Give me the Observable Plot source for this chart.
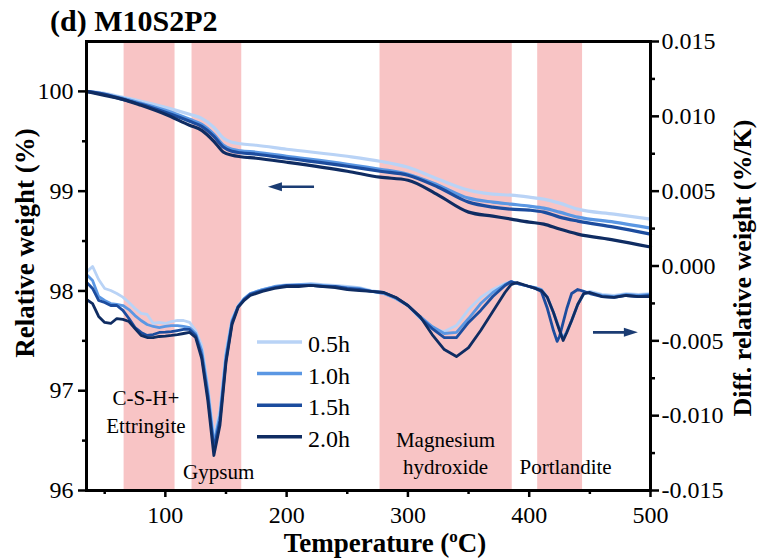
<!DOCTYPE html>
<html><head><meta charset="utf-8">
<script src="https://cdn.jsdelivr.net/npm/d3@7"></script>
<script src="https://cdn.jsdelivr.net/npm/@observablehq/plot@0.6"></script>
<style>
body{margin:0;background:#fff;}
#chart svg{display:block;}
</style></head><body><div id="chart"></div>
<script>
// ---------- data ----------
const series = ["0.5h", "1.0h", "1.5h", "2.0h"];
const colors = ["#b9d3f6", "#5b97e3", "#1c4c9e", "#0f2c62"];

// TG: relative weight (%)
const tgT   = [35, 50, 65, 80, 100, 120, 130, 140, 148, 155, 162, 175, 200, 250, 277, 300, 325, 350, 370, 385, 400, 412, 425, 440, 470, 500];
const tg05  = [100.00, 99.98, 99.94, 99.90, 99.84, 99.77, 99.73, 99.64, 99.53, 99.49, 99.475, 99.46, 99.42, 99.35, 99.30, 99.24, 99.12, 99.01, 98.97, 98.96, 98.94, 98.92, 98.88, 98.82, 98.77, 98.72];
const tg10  = [100.00, 99.97, 99.93, 99.88, 99.81, 99.72, 99.67, 99.57, 99.46, 99.42, 99.405, 99.39, 99.35, 99.27, 99.22, 99.17, 99.06, 98.93, 98.89, 98.87, 98.85, 98.83, 98.79, 98.74, 98.69, 98.63];
const tg15  = [100.00, 99.97, 99.92, 99.87, 99.79, 99.70, 99.65, 99.55, 99.44, 99.40, 99.385, 99.37, 99.33, 99.25, 99.20, 99.16, 99.04, 98.89, 98.84, 98.82, 98.81, 98.79, 98.74, 98.70, 98.64, 98.57];
const tg20  = [100.00, 99.96, 99.92, 99.86, 99.77, 99.66, 99.61, 99.50, 99.39, 99.36, 99.345, 99.33, 99.29, 99.20, 99.14, 99.11, 98.96, 98.79, 98.75, 98.72, 98.69, 98.67, 98.62, 98.57, 98.51, 98.44];

// DTG: diff. relative weight (%/K)
const dtgT  = [35,40,45,50,55,60,65,70,75,80,85,90,95,100,105,110,115,120,125,130,135,140,145,150,155,160,165,170,180,190,200,210,220,230,240,250,260,270,280,290,300,310,320,330,340,350,360,370,380,385,390,400,405,410,415,420,423,425,428,431,435,440,445,450,460,470,480,490,500];
const dtg05 = [-0.00041,-0.00003,-0.00090,-0.00150,-0.00164,-0.00184,-0.00208,-0.00244,-0.00284,-0.00317,-0.00324,-0.00384,-0.00377,-0.00384,-0.00371,-0.00364,-0.00364,-0.00377,-0.00431,-0.00531,-0.00798,-0.01146,-0.00965,-0.00565,-0.00351,-0.00264,-0.00217,-0.00184,-0.00157,-0.00137,-0.00124,-0.00124,-0.00117,-0.00124,-0.00130,-0.00137,-0.00144,-0.00164,-0.00177,-0.00217,-0.00264,-0.00351,-0.00418,-0.00438,-0.00398,-0.00291,-0.00210,-0.00157,-0.00117,-0.00104,-0.00117,-0.00137,-0.00144,-0.00157,-0.00210,-0.00311,-0.00377,-0.00424,-0.00484,-0.00438,-0.00364,-0.00257,-0.00184,-0.00170,-0.00190,-0.00197,-0.00184,-0.00190,-0.00184];
const dtg10 = [-0.00057,-0.00097,-0.00204,-0.00230,-0.00251,-0.00257,-0.00264,-0.00291,-0.00331,-0.00364,-0.00391,-0.00404,-0.00411,-0.00404,-0.00398,-0.00398,-0.00404,-0.00411,-0.00451,-0.00565,-0.00832,-0.01186,-0.00999,-0.00598,-0.00364,-0.00271,-0.00217,-0.00184,-0.00157,-0.00137,-0.00130,-0.00124,-0.00124,-0.00130,-0.00137,-0.00144,-0.00150,-0.00170,-0.00184,-0.00217,-0.00264,-0.00337,-0.00404,-0.00451,-0.00444,-0.00351,-0.00251,-0.00177,-0.00124,-0.00104,-0.00117,-0.00137,-0.00144,-0.00157,-0.00210,-0.00311,-0.00377,-0.00424,-0.00484,-0.00438,-0.00364,-0.00257,-0.00184,-0.00177,-0.00197,-0.00204,-0.00190,-0.00197,-0.00190];
const dtg15 = [-0.00108,-0.00150,-0.00230,-0.00244,-0.00264,-0.00264,-0.00297,-0.00351,-0.00411,-0.00444,-0.00464,-0.00458,-0.00444,-0.00442,-0.00438,-0.00431,-0.00424,-0.00424,-0.00464,-0.00598,-0.00865,-0.01219,-0.01032,-0.00631,-0.00377,-0.00271,-0.00224,-0.00190,-0.00164,-0.00144,-0.00130,-0.00130,-0.00130,-0.00137,-0.00137,-0.00150,-0.00157,-0.00170,-0.00177,-0.00210,-0.00264,-0.00344,-0.00418,-0.00478,-0.00478,-0.00377,-0.00297,-0.00204,-0.00130,-0.00104,-0.00117,-0.00137,-0.00150,-0.00170,-0.00284,-0.00431,-0.00504,-0.00471,-0.00377,-0.00284,-0.00184,-0.00157,-0.00170,-0.00184,-0.00204,-0.00210,-0.00197,-0.00204,-0.00197];
const dtg20 = [-0.00224,-0.00251,-0.00337,-0.00377,-0.00384,-0.00351,-0.00357,-0.00371,-0.00418,-0.00464,-0.00478,-0.00478,-0.00471,-0.00468,-0.00464,-0.00458,-0.00451,-0.00444,-0.00478,-0.00618,-0.00899,-0.01266,-0.01066,-0.00645,-0.00391,-0.00277,-0.00230,-0.00197,-0.00170,-0.00150,-0.00137,-0.00137,-0.00130,-0.00137,-0.00144,-0.00157,-0.00164,-0.00170,-0.00177,-0.00210,-0.00264,-0.00337,-0.00458,-0.00558,-0.00605,-0.00545,-0.00431,-0.00304,-0.00177,-0.00124,-0.00110,-0.00137,-0.00150,-0.00164,-0.00210,-0.00311,-0.00384,-0.00431,-0.00498,-0.00444,-0.00364,-0.00257,-0.00184,-0.00177,-0.00204,-0.00210,-0.00197,-0.00204,-0.00204];

// shaded temperature ranges
const bandStart = [66, 122, 277, 407];
const bandEnd   = [108, 163, 386, 444];

// ticks
const xTicks = [100, 200, 300, 400, 500];
const xMinor = [50, 150, 250, 350, 450];
const yTicks = [96, 97, 98, 99, 100];
const yMinor = [96.5, 97.5, 98.5, 99.5];
const rTicks = [-0.015, -0.010, -0.005, 0.000, 0.005, 0.010, 0.015];
const rMinor = [-0.0125, -0.0075, -0.0025, 0.0025, 0.0075, 0.0125];

// annotations (text) and their anchor points (layout)
const annText = ["C-S-H+\nEttringite", "Gypsum", "Magnesium\nhydroxide", "Portlandite"];
const annX = [84, 144, 331, 430];
const annY = [96.81, 96.20, 96.39, 96.26];

// ---------- build ----------
const FONT = "'Liberation Serif', 'Times New Roman', serif";
const yR = d3.scaleLinear([-0.015, 0.015], [96, 100.5]); // right axis -> left axis units
const tgAll = [tg05, tg10, tg15, tg20];
const dtgAll = [dtg05, dtg10, dtg15, dtg20];
const tgData = series.flatMap((s, i) => tgT.map((t, j) => ({s, t, v: tgAll[i][j]})));
const dtgData = series.flatMap((s, i) => dtgT.map((t, j) => ({s, t, v: yR(dtgAll[i][j])})));
const bands = bandStart.map((a, i) => ({a, b: bandEnd[i]}));
const anns = annText.map((text, i) => ({text, x: annX[i], y: annY[i]}));
const fmtR = v => (Math.round(yR.invert(v) * 1000) / 1000).toFixed(3);

const plot = Plot.plot({
  width: 758, height: 558,
  marginLeft: 86, marginRight: 108, marginTop: 41, marginBottom: 68,
  style: {fontFamily: FONT, fontSize: "24px", color: "black", background: "white", overflow: "visible"},
  x: {domain: [35, 500]},
  y: {domain: [96, 100.5]},
  color: {domain: series, range: colors},
  marks: [
    Plot.rect(bands, {x1: "a", x2: "b", fill: "#f8c4c5"}),
    Plot.line(tgData, {x: "t", y: "v", z: "s", stroke: "s", strokeWidth: 3.2, curve: "monotone-x"}),
    Plot.line(dtgData, {x: "t", y: "v", z: "s", stroke: "s", strokeWidth: 2.8, curve: "linear"}),
    Plot.text(anns, {x: "x", y: "y", text: "text", fontSize: 21, lineHeight: 1.33, fill: "black"}),
    Plot.axisX({ticks: xTicks, tickSize: 7, tickPadding: 8, strokeWidth: 2.5, label: null, tickFormat: d => String(d)}),
    Plot.axisX({ticks: xMinor, tickSize: 4, strokeWidth: 2.5, label: null, tickFormat: () => ""}),
    Plot.axisY({ticks: yTicks, anchor: "left", tickSize: 8, tickPadding: 5, strokeWidth: 2.5, label: null, tickFormat: d => String(d)}),
    Plot.axisY({ticks: yMinor, anchor: "left", tickSize: 4, strokeWidth: 2.5, label: null, tickFormat: () => ""}),
    Plot.axisY({ticks: rTicks.map(yR), anchor: "right", tickSize: 8, tickPadding: 3, strokeWidth: 2.5, label: null, tickFormat: fmtR}),
    Plot.axisY({ticks: rMinor.map(yR), anchor: "right", tickSize: 4, strokeWidth: 2.5, label: null, tickFormat: () => ""}),
    Plot.frame({stroke: "black", strokeWidth: 3})
  ]
});

const svg = d3.select(plot);
const xs = plot.scale("x"), ys = plot.scale("y");

// arrows pointing to the relevant axis
const arrowColor = "#1b3c73";
function arrow(t1, t2, v) {
  const x1 = xs.apply(t1), x2 = xs.apply(t2), y = ys.apply(v);
  const dir = Math.sign(x2 - x1), hl = 14, hw = 4.5;
  svg.append("line").attr("x1", x1).attr("x2", x2 - dir * hl + dir).attr("y1", y).attr("y2", y)
    .attr("stroke", arrowColor).attr("stroke-width", 2.6);
  svg.append("path").attr("d", `M${x2},${y}L${x2 - dir * hl},${y - hw}L${x2 - dir * hl},${y + hw}Z`).attr("fill", arrowColor);
}
arrow(223, 185, 99.04);
arrow(453, 490, 97.58);

// legend
const leg = svg.append("g").attr("font-family", FONT).attr("font-size", 24).attr("text-anchor", "start");
series.forEach((s, i) => {
  const y = 342 + i * 31.6;
  leg.append("line").attr("x1", 257).attr("x2", 302).attr("y1", y).attr("y2", y)
    .attr("stroke", colors[i]).attr("stroke-width", 3.5);
  leg.append("text").attr("x", 308).attr("y", y + 2).attr("dominant-baseline", "central").text(s);
});

// titles
svg.append("text").attr("x", 50).attr("y", 31).attr("text-anchor", "start").attr("font-family", FONT)
  .attr("font-weight", "bold").attr("font-size", 30).text("(d) M10S2P2");
svg.append("text").attr("transform", "translate(25,243) rotate(-90)").attr("text-anchor", "middle")
  .attr("dominant-baseline", "central").attr("font-family", FONT).attr("font-weight", "bold")
  .attr("font-size", 27).text("Relative weight (%)");
svg.append("text").attr("transform", "translate(742,268) rotate(-90)").attr("text-anchor", "middle")
  .attr("dominant-baseline", "central").attr("font-family", FONT).attr("font-weight", "bold")
  .attr("font-size", 26).text("Diff. relative weight (%/K)");
const xl = svg.append("text").attr("x", 385).attr("y", 552).attr("text-anchor", "middle")
  .attr("font-family", FONT).attr("font-weight", "bold").attr("font-size", 27);
xl.append("tspan").text("Temperature (");
xl.append("tspan").attr("font-size", 17).attr("dy", -10).text("o");
xl.append("tspan").attr("dy", 10).text("C)");

document.getElementById("chart").append(plot);
</script>
</body></html>
